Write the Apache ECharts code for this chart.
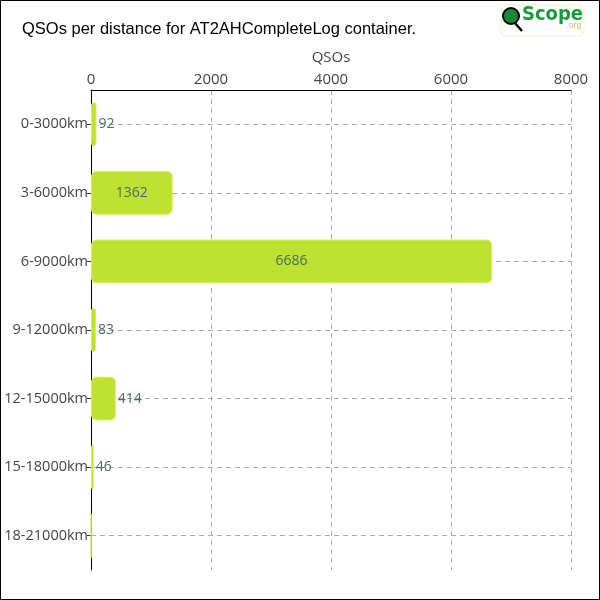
<!DOCTYPE html>
<html><head><meta charset="utf-8">
<script src="https://cdn.jsdelivr.net/npm/echarts@6/dist/echarts.min.js"></script>
<style>html,body{margin:0;padding:0;background:#fff}#c{width:600px;height:600px}</style>
</head><body><div id="c"></div>
<script>
const categories = ['0-3000km','3-6000km','6-9000km','9-12000km','12-15000km','15-18000km','18-21000km'];
const qsos = [92, 1362, 6686, 83, 414, 46, 3];
const xTicks = [0, 2000, 4000, 6000, 8000];

const chart = echarts.init(document.getElementById('c'));
const font = '"Open Sans", Lato, sans-serif';
chart.setOption({
  animation: false,
  title: {
    text: 'QSOs per distance for AT2AHCompleteLog container.',
    left: 17, top: 16,
    textStyle: { fontFamily: '"Liberation Sans", sans-serif', fontSize: 16.5, fontWeight: 'normal', color: '#000' }
  },
  grid: { left: 91, right: 29, top: 90, bottom: 30, containLabel: false, outerBoundsMode: 'none' },
  xAxis: {
    type: 'value', position: 'top', min: xTicks[0], max: xTicks[xTicks.length-1], interval: 2000,
    name: 'QSOs', nameLocation: 'middle', nameGap: 25,
    nameTextStyle: { fontFamily: font, fontSize: 15, color: '#444' },
    axisLine: { show: true, lineStyle: { color: '#000', width: 1 } },
    axisTick: { show: false },
    axisLabel: { fontFamily: font, fontSize: 15, color: '#444', margin: 3, formatter: v => String(v) },
    splitLine: { show: true, lineStyle: { color: '#aaa', type: [5, 4] } }
  },
  yAxis: {
    type: 'category', inverse: true, data: categories,
    axisLine: { show: true, lineStyle: { color: '#000', width: 1 } },
    axisTick: { show: true, alignWithLabel: true, length: 4, lineStyle: { color: '#333' } },
    axisLabel: { fontFamily: font, fontSize: 14.5, color: '#444', margin: 3 },
    splitLine: { show: true, alignWithLabel: true, lineStyle: { color: '#aaa', type: [5, 4] } }
  },
  series: [{
    type: 'bar',
    barWidth: '64%',
    data: qsos.map(v => ({
      value: v,
      label: {
        show: v >= 10,
        position: v > 1000 ? 'inside' : 'right',
        distance: 2
      }
    })),
    itemStyle: { color: '#bee22f', borderColor: '#d6ee6a', borderWidth: 1, borderRadius: 5 },
    label: { fontFamily: font, fontSize: 14, color: '#4a6b66' }
  }],
  graphic: [
    { type: 'rect', shape: { x: 0.5, y: 0.5, width: 599, height: 599 }, style: { fill: 'none', stroke: '#000', lineWidth: 1 }, z: 100 },
    { type: 'rect', shape: { x: 501, y: 5, width: 83, height: 31, r: 4 }, style: { fill: '#fff', stroke: '#eef3c8', lineWidth: 1 } },
    { type: 'line', shape: { x1: 514, y1: 22, x2: 522, y2: 31 }, style: { stroke: '#000', lineWidth: 2.5 } },
    { type: 'circle', shape: { cx: 511, cy: 16, r: 8 }, style: { fill: '#1a8a3a', stroke: '#000', lineWidth: 2 } },
    { type: 'text', left: 522, top: 5, style: { text: 'Scope', fill: '#1a9a3a', font: 'bold 20px "DejaVu Sans Condensed", sans-serif' } },
    { type: 'text', left: 566, top: 21, style: { text: '.org', fill: '#b8c870', font: '9px sans-serif' } }
  ]
});
</script></body></html>
